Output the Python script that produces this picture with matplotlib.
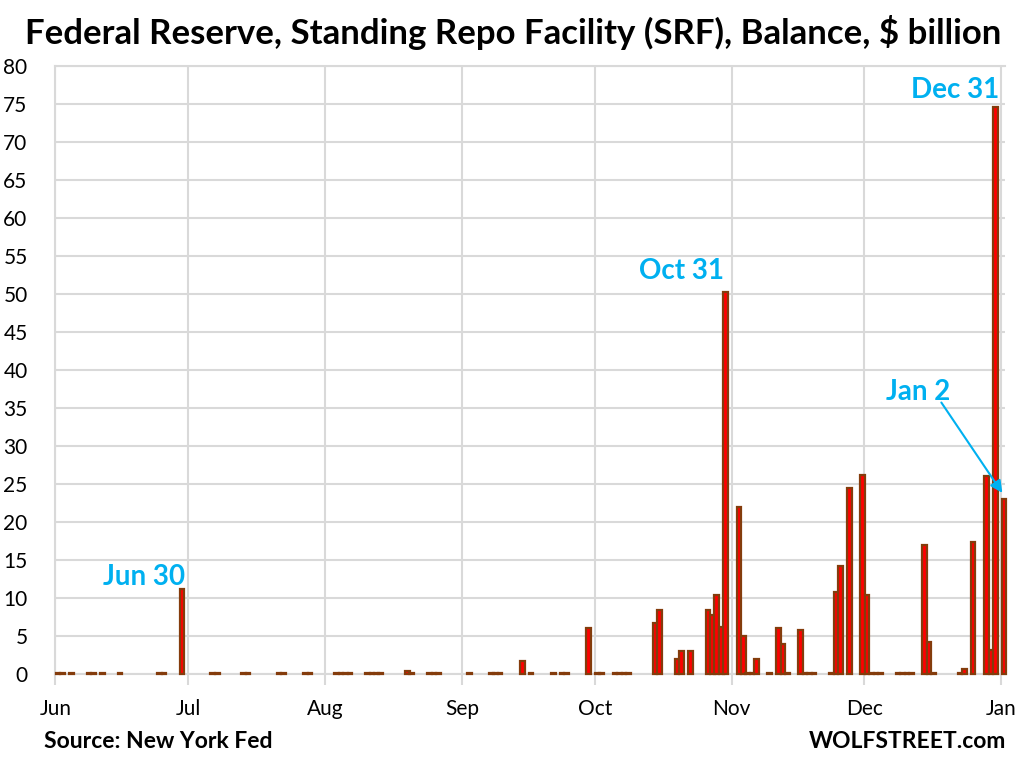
import numpy as np
import matplotlib
matplotlib.use('Agg')
import matplotlib.pyplot as plt
import matplotlib.dates as mdates

plt.rcParams['font.family'] = ['Lato', 'DejaVu Sans']

# SRF daily balance, $ billion (tiny values are the flat marks on the baseline)
dates = ['2025-06-02', '2025-06-03', '2025-06-05', '2025-06-09', '2025-06-10',
         '2025-06-12', '2025-06-16', '2025-06-25', '2025-06-26', '2025-06-30',
         '2025-07-07', '2025-07-08', '2025-07-14', '2025-07-15', '2025-07-22',
         '2025-07-23', '2025-07-28', '2025-07-29',
         '2025-08-04', '2025-08-05', '2025-08-06', '2025-08-07',
         '2025-08-11', '2025-08-12', '2025-08-13', '2025-08-14',
         '2025-08-20', '2025-08-21', '2025-08-25', '2025-08-26', '2025-08-27',
         '2025-09-03', '2025-09-08', '2025-09-09', '2025-09-10', '2025-09-15',
         '2025-09-17', '2025-09-22', '2025-09-24', '2025-09-25', '2025-09-30',
         '2025-10-02', '2025-10-03', '2025-10-06', '2025-10-07', '2025-10-08',
         '2025-10-09', '2025-10-15', '2025-10-16', '2025-10-20', '2025-10-21',
         '2025-10-23', '2025-10-27', '2025-10-28', '2025-10-29', '2025-10-30',
         '2025-10-31',
         '2025-11-03', '2025-11-04', '2025-11-05', '2025-11-06', '2025-11-07',
         '2025-11-10', '2025-11-12', '2025-11-13', '2025-11-14', '2025-11-17',
         '2025-11-18', '2025-11-19', '2025-11-20', '2025-11-24', '2025-11-25',
         '2025-11-26', '2025-11-28',
         '2025-12-01', '2025-12-02', '2025-12-03', '2025-12-04', '2025-12-05',
         '2025-12-09', '2025-12-10', '2025-12-11', '2025-12-12', '2025-12-15',
         '2025-12-16', '2025-12-17', '2025-12-23', '2025-12-24', '2025-12-26',
         '2025-12-29', '2025-12-30', '2025-12-31', '2026-01-02']
values = [0.05, 0.05, 0.05, 0.05, 0.05,
          0.05, 0.05, 0.05, 0.05, 11.1,
          0.05, 0.05, 0.05, 0.05, 0.05,
          0.05, 0.05, 0.05,
          0.05, 0.05, 0.05, 0.05,
          0.05, 0.05, 0.05, 0.05,
          0.4, 0.05, 0.05, 0.05, 0.05,
          0.05, 0.05, 0.05, 0.05, 1.7,
          0.05, 0.05, 0.05, 0.05, 6.0,
          0.05, 0.05, 0.05, 0.05, 0.05,
          0.05, 6.7, 8.4, 2.0, 3.0,
          3.0, 8.4, 7.7, 10.4, 6.1,
          50.3,
          21.9, 4.9, 0.05, 0.05, 2.0,
          0.05, 6.0, 3.9, 0.05, 5.7,
          0.05, 0.05, 0.05, 0.05, 10.7,
          14.2, 24.5,
          26.1, 10.4, 0.05, 0.05, 0.05,
          0.05, 0.05, 0.05, 0.05, 16.9,
          4.2, 0.05, 0.05, 0.6, 17.3,
          26.0, 3.1, 74.6, 23.0]

x = mdates.date2num(np.array(dates, dtype='datetime64[D]'))
x0 = mdates.date2num(np.datetime64('2025-06-01'))

fig = plt.figure(figsize=(10.26, 7.68), dpi=100)
ax = fig.add_axes([55.4/1026, 94.3/768, (1005-55.4)/1026, (673.7-66)/768])

ax.bar(x - 0.4, values, width=1.05, color='#FF0000', edgecolor='#843C0C',
       linewidth=1.6, zorder=3, clip_on=False)

ax.set_xlim(x0, x0 + 214.8)
ax.set_ylim(0, 80)
ax.set_yticks(np.arange(0, 81, 5))
ax.xaxis.set_major_locator(mdates.MonthLocator())
ax.xaxis.set_major_formatter(mdates.DateFormatter('%b'))
ax.grid(True, color='#D9D9D9', linewidth=1.5, zorder=0)
ax.set_axisbelow(True)
for s in ['left', 'top', 'bottom']:
    ax.spines[s].set_color('#D9D9D9')
    ax.spines[s].set_linewidth(1.5)
ax.spines['right'].set_visible(False)
ax.tick_params(axis='x', length=8, width=1.5, color='#D9D9D9', labelsize=15, pad=10)
ax.tick_params(axis='y', length=0, labelsize=15, pad=20)

blue = '#00B0F0'
ax.text(x0 + 29.3, 12.7, 'Jun 30', color=blue, fontsize=20, fontweight='bold',
        ha='right', va='center')
ax.text(x0 + 151.2, 53.0, 'Oct 31', color=blue, fontsize=20, fontweight='bold',
        ha='right', va='center')
ax.text(x0 + 213.5, 76.8, 'Dec 31', color=blue, fontsize=20, fontweight='bold',
        ha='right', va='center')
ax.text(x0 + 195.1, 37.1, 'Jan 2', color=blue, fontsize=20, fontweight='bold',
        ha='center', va='center')
ax.annotate('', xy=(x0 + 214.2, 23.8), xytext=(x0 + 200.4, 35.7),
            arrowprops=dict(arrowstyle='-|>', color=blue, lw=1.5,
                            mutation_scale=18, shrinkA=0, shrinkB=0),
            annotation_clip=False)

fig.text(0.5, 1 - 32/768, 'Federal Reserve, Standing Repo Facility (SRF), Balance, $ billion',
         fontsize=25, fontweight='bold', ha='center', va='center')
fig.text(44/1026, 1 - 742/768, 'Source: New York Fed', fontsize=16.5,
         fontweight='bold', ha='left', va='center')
fig.text(1006/1026, 1 - 742/768, 'WOLFSTREET.com', fontsize=16.5,
         fontweight='bold', ha='right', va='center')

fig.savefig('out.png', dpi=100)
